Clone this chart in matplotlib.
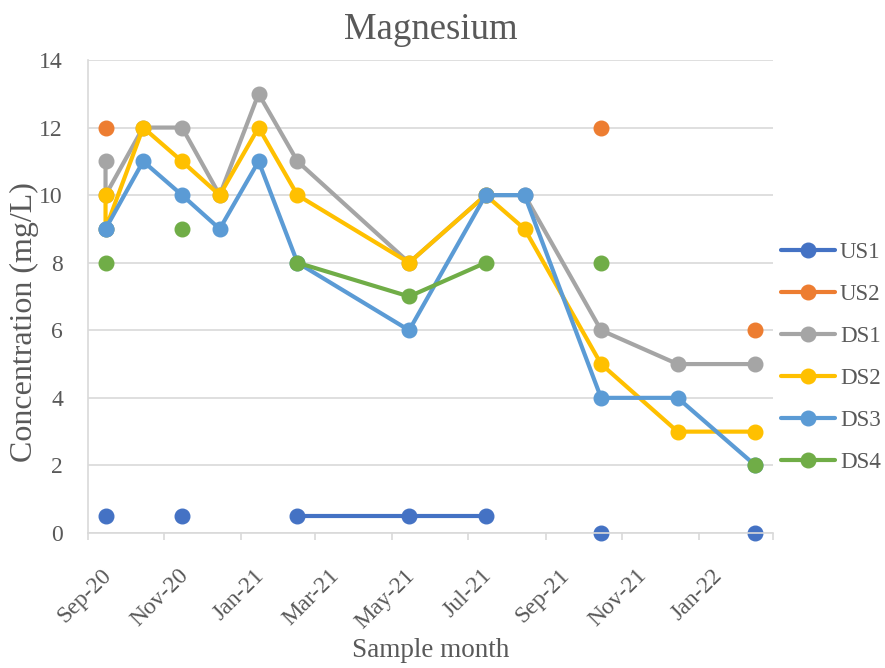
import numpy as np
import matplotlib
matplotlib.use("Agg")
import matplotlib.pyplot as plt
import matplotlib.transforms as mtransforms
from datetime import date

nan = np.nan
sample_dates = [date(2020, 9, 15), date(2020, 9, 15), date(2020, 10, 15), date(2020, 11, 15),
                date(2020, 12, 15), date(2021, 1, 15), date(2021, 2, 15), date(2021, 5, 15),
                date(2021, 7, 15), date(2021, 8, 15), date(2021, 10, 15), date(2021, 12, 15),
                date(2022, 2, 15)]

US1 = [0.5, nan, nan, 0.5, nan, nan, 0.5, 0.5, 0.5, nan, 0, nan, 0]
US2 = [12, nan, nan, nan, nan, nan, nan, nan, nan, nan, 12, nan, 6]
DS1 = [11, 10, 12, 12, 10, 13, 11, 8, 10, 10, 6, 5, 5]
DS2 = [10, 9, 12, 11, 10, 12, 10, 8, 10, 9, 5, 3, 3]
DS3 = [9, 9, 11, 10, 9, 11, 8, 6, 10, 10, 4, 4, 2]
DS4 = [8, nan, nan, 9, nan, nan, 8, 7, 8, nan, 8, nan, 2]

series = [("US1", US1, "#4472C4"), ("US2", US2, "#ED7D31"), ("DS1", DS1, "#A5A5A5"),
          ("DS2", DS2, "#FFC000"), ("DS3", DS3, "#5B9BD5"), ("DS4", DS4, "#70AD47")]

title = "Magnesium"
xlabel = "Sample month"
ylabel = "Concentration (mg/L)"
tick_dates = [date(2020, 9, 1), date(2020, 11, 1), date(2021, 1, 1), date(2021, 3, 1),
              date(2021, 5, 1), date(2021, 7, 1), date(2021, 9, 1), date(2021, 11, 1),
              date(2022, 1, 1), date(2022, 3, 1)]
tick_labels = ["Sep-20", "Nov-20", "Jan-21", "Mar-21", "May-21", "Jul-21",
               "Sep-21", "Nov-21", "Jan-22", ""]

plt.rcParams['font.family'] = ['Liberation Serif', 'DejaVu Serif']
txt = "#595959"
grid = "#D9D9D9"

fig = plt.figure(figsize=(8.85, 6.68), dpi=100)
ax = fig.add_axes([0.0994, 0.2021, 0.774, 0.7081])

for name, vals, col in series:
    ax.plot(sample_dates, vals, color=col, lw=3, marker='o', markersize=10.5,
            label=name, solid_capstyle='round', solid_joinstyle='round', clip_on=False)

ax.set_ylim(0, 14)
ax.set_yticks(np.arange(0, 15, 2))
ax.set_xlim(date(2020, 9, 1), date(2022, 3, 1))
ax.set_xticks(tick_dates)

ax.grid(axis='y', color=grid, lw=1.2)
ax.set_axisbelow(True)
for s in ['top', 'right']:
    ax.spines[s].set_visible(False)
for s in ['left', 'bottom']:
    ax.spines[s].set_color(grid)
    ax.spines[s].set_linewidth(1.2)
ax.tick_params(axis='y', length=0, pad=18, labelsize=17, labelcolor=txt)
ax.tick_params(axis='x', length=5, color=grid, width=1.2, pad=6, labelsize=17, labelcolor=txt)

ax.set_xticklabels(tick_labels, rotation=45, ha='right', rotation_mode='anchor')
offset = mtransforms.ScaledTranslation(9.5 / 72, -12 / 72, fig.dpi_scale_trans)
for lab in ax.get_xticklabels():
    lab.set_transform(lab.get_transform() + offset)

ax.set_title(title, fontsize=26.5, color=txt, pad=15)
ax.set_xlabel(xlabel, fontsize=19.5, color=txt)
ax.xaxis.set_label_coords(0.5, -0.222)
ax.set_ylabel(ylabel, fontsize=23, color=txt)
ax.yaxis.set_label_coords(-0.072, 0.446)

fig.legend(loc='center left', bbox_to_anchor=(0.8718, 0.4648), frameon=False,
           fontsize=16.6, labelcolor=txt, handlelength=2.35, labelspacing=0.9,
           handletextpad=0.22, borderaxespad=0)

fig.savefig("out.png", dpi=100)
